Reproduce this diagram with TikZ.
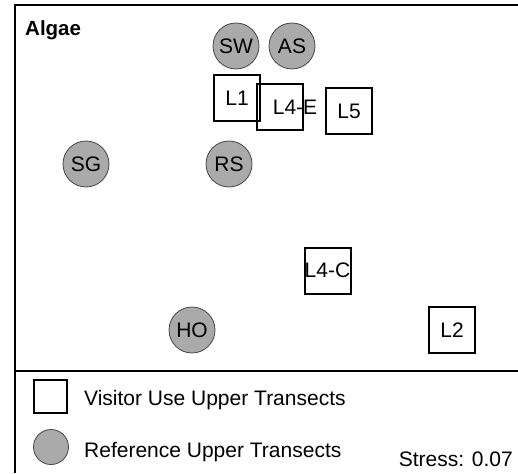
\documentclass[tikz,border=0pt]{standalone}
\usepackage{fontspec}
\setmainfont{Liberation Sans}
\definecolor{refgray}{RGB}{170,170,170}
\definecolor{rimgray}{RGB}{70,70,70}
\begin{document}
\begin{tikzpicture}[x=1pt,y=-1pt,
  txt/.style={font=\fontsize{21}{25}\selectfont, inner sep=0pt},
  sq/.style={draw=black, line width=2pt, minimum size=46pt, inner sep=0pt,
             font=\fontsize{21}{25}\selectfont},
  ref/.style={circle, draw=rimgray, line width=0.8pt, fill=refgray,
              minimum size=46pt, inner sep=0pt, font=\fontsize{21}{25}\selectfont},
  frameline/.style={line width=2pt}]
\useasboundingbox (0,0) rectangle (518,473);
% frame
\draw[frameline] (15,473) -- (15,5) -- (518,5);
\draw[frameline] (15,371) -- (518,371);
% title
\node[anchor=base west, inner sep=0pt, font=\fontsize{20.5}{24}\selectfont\bfseries] (title) at (25,36) {Algae};
% reference transects
\node[ref] (SW) at (236,46) {SW};
\node[ref] (AS) at (292,46) {AS};
\node[ref] (SG) at (86,164) {SG};
\node[ref] (RS) at (229,164) {RS};
\node[ref] (HO) at (192,330) {HO};
% visitor use transects
\node[sq] (L1) at (237,98) {L1};
\node[sq] (L4E) at (280,107) {};
\node[txt] (L4Etext) at (295,107) {L4-E};
\node[sq] (L5) at (349,111) {L5};
\node[sq] (L4C) at (327.5,270.5) {L4-C};
\node[sq] (L2) at (452,330) {L2};
% legend
\node[sq, minimum size=33pt] (legsq) at (50,396) {};
\node[ref, minimum size=35pt] (legci) at (51,447) {};
\node[txt, anchor=base west] (legsqtext) at (84,405.5) {Visitor Use Upper Transects};
\node[txt, anchor=base west] (legcitext) at (84,457.5) {Reference Upper Transects};
\node[txt, anchor=base east] (stress) at (513,466.5) {Stress: 0.07};
\end{tikzpicture}
\end{document}
